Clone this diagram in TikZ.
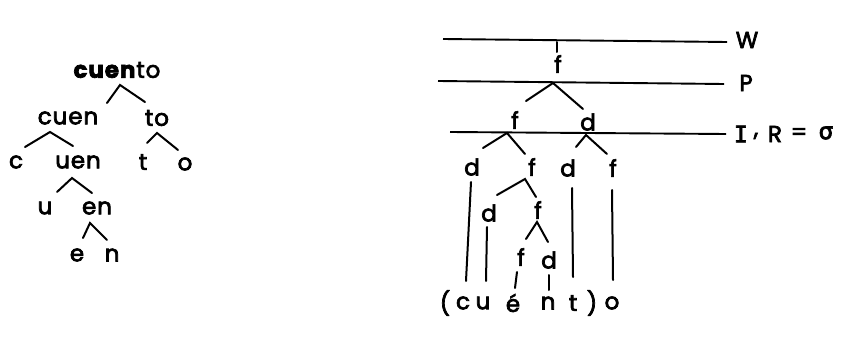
\documentclass[tikz,border=0pt]{standalone}
\usepackage{fontspec}
\setmainfont{Poppins}[LetterSpace=4]
\newfontfamily\greekfont{DejaVu Sans}
\newfontfamily\slabfont{DejaVu Sans Mono}
\newcommand\heavyink{\special{pdf:literal direct 2 Tr 0.7 w}}
\begin{document}
\begin{tikzpicture}[x=1pt,y=-1pt,
  lbl/.style={font=\fontsize{23}{25}\selectfont\heavyink, inner sep=0pt, anchor=center},
  br/.style={line width=2pt, line cap=round},
  lev/.style={line width=1.9pt}]
\useasboundingbox (0,0) rectangle (862,337);
% ---------- left tree ----------
\node[lbl] (cuento) at (117,70) {\textbf{cuen}to};
\node[lbl] (cuen) at (68,118) {cuen};
\node[lbl] (to) at (157,118) {to};
\node[lbl] (c) at (16,162) {c};
\node[lbl] (uen) at (78,162) {uen};
\node[lbl] (t1) at (143,162) {t};
\node[lbl] (o1) at (185,164) {o};
\node[lbl] (u) at (45,208) {u};
\node[lbl] (en) at (97,208) {en};
\node[lbl] (e) at (77,255) {e};
\node[lbl] (n) at (112,255) {n};
\coordinate (a1) at (120,85);
\coordinate (a1l) at (107,103);
\coordinate (a1r) at (145,102);
\coordinate (a2) at (50,132);
\coordinate (a2l) at (25,147);
\coordinate (a2r) at (73,146);
\coordinate (a3) at (157,133);
\coordinate (a3l) at (147,143);
\coordinate (a3r) at (178,150);
\coordinate (a4) at (72,178);
\coordinate (a4l) at (57,192);
\coordinate (a4r) at (92,193);
\coordinate (a5) at (90,223);
\coordinate (a5l) at (83,238);
\coordinate (a5r) at (107,240);
\draw[br] (a1l) -- (a1) -- (a1r);
\draw[br] (a2l) -- (a2) -- (a2r);
\draw[br] (a3l) -- (a3) -- (a3r);
\draw[br] (a4l) -- (a4) -- (a4r);
\draw[br] (a5l) -- (a5) -- (a5r);
% ---------- right diagram ----------
\node[lbl] (W) at (747,40) {W};
\node[lbl] (P) at (746,83) {P};
\node[lbl] (I) at (741,134) {\slabfont I};
\node[lbl] (comma) at (756,136) {,};
\node[lbl] (R) at (775,134) {R};
\node[lbl] (eq) at (799,134) {=};
\node[lbl] (sigma) at (826,133) {\greekfont σ};
\coordinate (Wl) at (443,39);
\coordinate (Wr) at (727,42);
\coordinate (Pl) at (438,81);
\coordinate (Pr) at (724,84);
\coordinate (Il) at (450,132);
\coordinate (Ir) at (726,134);
\draw[lev] (Wl) -- (Wr);
\draw[lev] (Pl) -- (Pr);
\draw[lev] (Il) -- (Ir);
\node[lbl] (f0) at (558,64) {f};
\node[lbl] (f1) at (515,120) {f};
\node[lbl] (d1) at (588,122) {d};
\node[lbl] (d2) at (472,167) {d};
\node[lbl] (f2) at (532,167) {f};
\node[lbl] (d3) at (568,168) {d};
\node[lbl] (f3) at (613,168) {f};
\node[lbl] (d4) at (489,213) {d};
\node[lbl] (f4) at (538,210) {f};
\node[lbl] (f5) at (521,257) {f};
\node[lbl] (d5) at (549,260) {d};
% bottom string
\node[lbl] (lp) at (445,303) {(};
\node[lbl] (sc) at (463,303) {c};
\node[lbl] (su) at (483,303) {u};
\node[lbl] (se) at (513,303) {é};
\node[lbl] (sn) at (548,303) {n};
\node[lbl] (st) at (573,303) {t};
\node[lbl] (rp) at (592,303) {)};
\node[lbl] (so) at (612,303) {o};
% branches
\coordinate (b0t) at (557,42);
\coordinate (b0b) at (557,52);
\draw[br] (b0t) -- (b0b);
\coordinate (b1) at (553,83);
\coordinate (b1l) at (526,101);
\coordinate (b1r) at (583,109);
\draw[br] (b1l) -- (b1) -- (b1r);
\coordinate (b2) at (507,133);
\coordinate (b2l) at (483,148);
\coordinate (b2r) at (525,154);
\draw[br] (b2l) -- (b2) -- (b2r);
\coordinate (b3) at (586,135);
\coordinate (b3l) at (576,147);
\coordinate (b3r) at (607,154);
\draw[br] (b3l) -- (b3) -- (b3r);
\coordinate (b4) at (525,179);
\coordinate (b4l) at (497,195);
\coordinate (b4r) at (536,197);
\draw[br] (b4l) -- (b4) -- (b4r);
\coordinate (b5) at (537,222);
\coordinate (b5l) at (526,239);
\coordinate (b5r) at (548,242);
\draw[br] (b5l) -- (b5) -- (b5r);
% vertical association lines
\coordinate (v1t) at (471,182);
\coordinate (v1b) at (466,281);
\coordinate (v2t) at (487,227);
\coordinate (v2b) at (486,281);
\coordinate (v3t) at (517,272);
\coordinate (v3b) at (515,288);
\coordinate (v4t) at (549,275);
\coordinate (v4b) at (549,290);
\coordinate (v5t) at (572,188);
\coordinate (v5b) at (573,277);
\coordinate (v6t) at (612,190);
\coordinate (v6b) at (613,280);
\draw[br] (v1t) -- (v1b);
\draw[br] (v2t) -- (v2b);
\draw[br] (v3t) -- (v3b);
\draw[br] (v4t) -- (v4b);
\draw[br] (v5t) -- (v5b);
\draw[br] (v6t) -- (v6b);
\end{tikzpicture}
\end{document}
